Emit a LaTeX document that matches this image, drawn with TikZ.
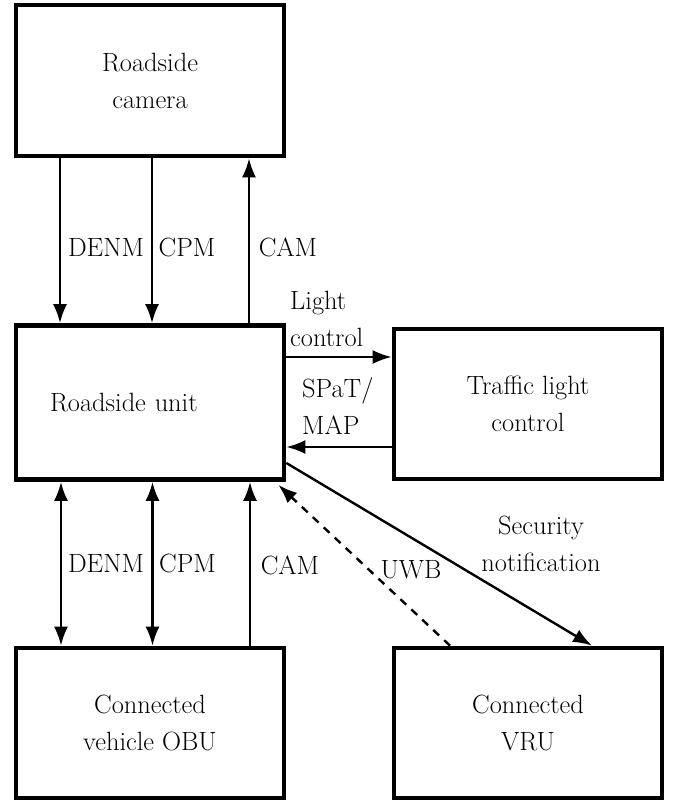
\documentclass[tikz,border=0pt]{standalone}
\usetikzlibrary{arrows.meta,calc}
\begin{document}
\begin{tikzpicture}[x=1pt,y=-1pt,
  every node/.style={font=\fontsize{26.4}{37}\selectfont},
  box/.style={draw, line width=4.7pt, minimum width=268pt, minimum height=150pt, align=center},
  arr/.style={line width=2.4pt, -{Latex[length=19pt,width=14pt]}},
  darr/.style={line width=2.4pt, {Latex[length=19pt,width=14pt]}-{Latex[length=19pt,width=14pt]}},
  lbl/.style={inner sep=0pt}]
\useasboundingbox (0,0) rectangle (676,801);

\node[box, minimum height=151pt] (cam) at (150,80.5) {Roadside\\camera};
\node[box, minimum height=154pt, text width=200pt, inner xsep=34pt, align=left] (rsu) at (150,402.5) {Roadside unit};
\node[box] (tlc) at (528,404) {Traffic light\\control};
\node[box] (obu) at (150,723) {Connected\\vehicle OBU};
\node[box] (vru) at (528,723) {Connected\\VRU};

% camera <-> RSU
\draw[arr] ([xshift=-90pt]cam.south) -- ([xshift=-90pt]rsu.north);
\draw[arr] ([xshift=2pt]cam.south) -- ([xshift=2pt]rsu.north);
\draw[arr] ([xshift=99pt]rsu.north) -- ([xshift=99pt]cam.south);
\node[lbl] (l1) at (106,247) {DENM};
\node[lbl] (l2) at (187,247) {CPM};
\node[lbl] (l3) at (288,247) {CAM};

% RSU <-> traffic light
\draw[arr] (rsu.east |- 0,357) -- (tlc.west |- 0,357);
\draw[arr] (tlc.west |- 0,447) -- (rsu.east |- 0,447);
\node[lbl, anchor=west, align=left] (l4) at (290,319) {Light\\control};
\node[lbl, anchor=west, align=left] (l5) at (302,406) {SPaT/\\MAP};

% RSU <-> OBU
\draw[darr] ([xshift=-89pt]rsu.south) -- ([xshift=-89pt]obu.north);
\draw[darr] ([xshift=2.5pt]rsu.south) -- ([xshift=2.5pt]obu.north);
\draw[arr] ([xshift=100pt]obu.north) -- ([xshift=100pt]rsu.south);
\node[lbl] (l6) at (106,563) {DENM};
\node[lbl] (l7) at (187.5,563) {CPM};
\node[lbl] (l8) at (290,565) {CAM};

% RSU <-> VRU
\draw[arr] (rsu.east |- 0,463) -- ([xshift=64pt]vru.north);
\draw[arr, dash pattern=on 8pt off 7pt] ([xshift=-78pt]vru.north) -- ([xshift=-8pt,yshift=-3pt]rsu.south east);
\node[lbl] (l9) at (411,570) {UWB};
\node[lbl, align=center] (l10) at (541,543.5) {Security\\notification};
\end{tikzpicture}
\end{document}
